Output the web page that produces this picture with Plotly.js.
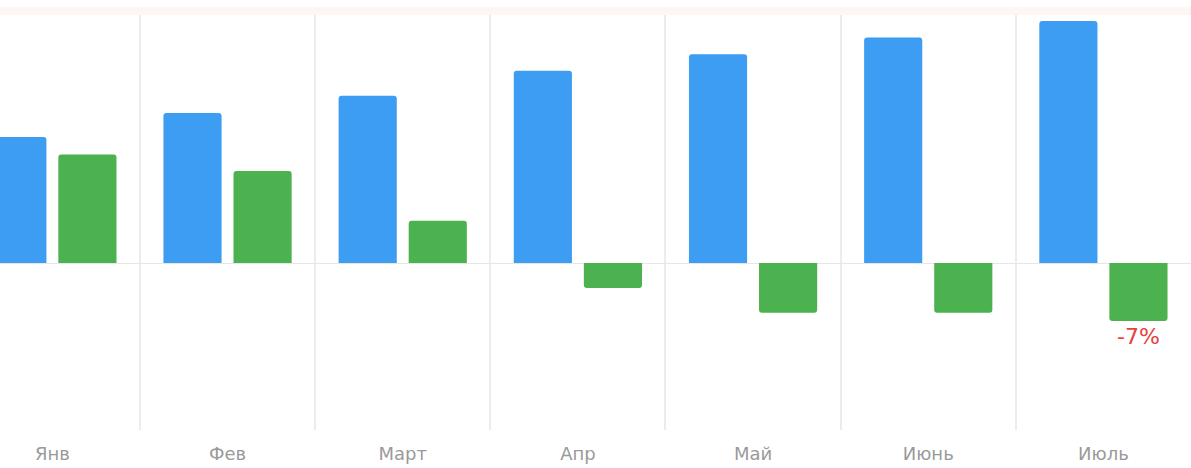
<!DOCTYPE html>
<html>
<head>
<meta charset="utf-8">
<script src="https://cdn.plot.ly/plotly-3.0.1.min.js"></script>
<style>
html,body{margin:0;padding:0;background:#fff;}
#chart{width:1191px;height:468px;}
</style>
</head>
<body>
<div id="chart"></div>
<script>
var months = ['Янв', 'Фев', 'Март', 'Апр', 'Май', 'Июнь', 'Июль'];
var blueValues = [15.2, 18.1, 20.2, 23.2, 25.2, 27.2, 29.2];
var greenValues = [13.1, 11.1, 5.1, -3.0, -6.0, -6.0, -7.0];
var greenLabels = ['', '', '', '', '', '', '-7%'];

var traces = [
  {
    type: 'bar',
    x: months,
    y: blueValues,
    marker: {color: '#3d9df3'},
    hoverinfo: 'none'
  },
  {
    type: 'bar',
    x: months,
    y: greenValues,
    marker: {color: '#4cb14f'},
    text: greenLabels,
    textposition: 'outside',
    textfont: {color: '#e8413c', size: 22, family: 'DejaVu Sans, sans-serif'},
    cliponaxis: false,
    hoverinfo: 'none'
  }
];

var layout = {
  width: 1191,
  height: 468,
  margin: {l: 0, r: 0, t: 15, b: 38, pad: 0},
  paper_bgcolor: '#ffffff',
  plot_bgcolor: '#ffffff',
  showlegend: false,
  barmode: 'group',
  bargap: 0.2,
  bargroupgap: 0.17,
  barcornerradius: 3,
  font: {family: 'DejaVu Sans, sans-serif', color: '#999999', size: 18},
  xaxis: {
    type: 'category',
    range: [-0.299, 6.5],
    tickson: 'boundaries',
    showgrid: true,
    gridcolor: '#ececec',
    gridwidth: 2,
    ticks: '',
    ticklen: 0,
    showline: false,
    zeroline: false,
    ticklabelstandoff: 11,
    tickfont: {size: 18, color: '#9a9a9a', family: 'DejaVu Sans, sans-serif'},
    fixedrange: true
  },
  yaxis: {
    range: [-20.15, 29.93],
    showgrid: false,
    showticklabels: false,
    zeroline: true,
    zerolinecolor: '#e6e6e6',
    zerolinewidth: 1,
    ticks: '',
    fixedrange: true
  },
  shapes: [
    {
      type: 'rect',
      xref: 'paper', yref: 'paper',
      x0: 0, x1: 1, y0: 1, y1: 1.02,
      fillcolor: '#fdf6f2',
      line: {width: 0},
      layer: 'below'
    }
  ]
};

Plotly.newPlot('chart', traces, layout, {displayModeBar: false, staticPlot: true});
</script>
</body>
</html>
